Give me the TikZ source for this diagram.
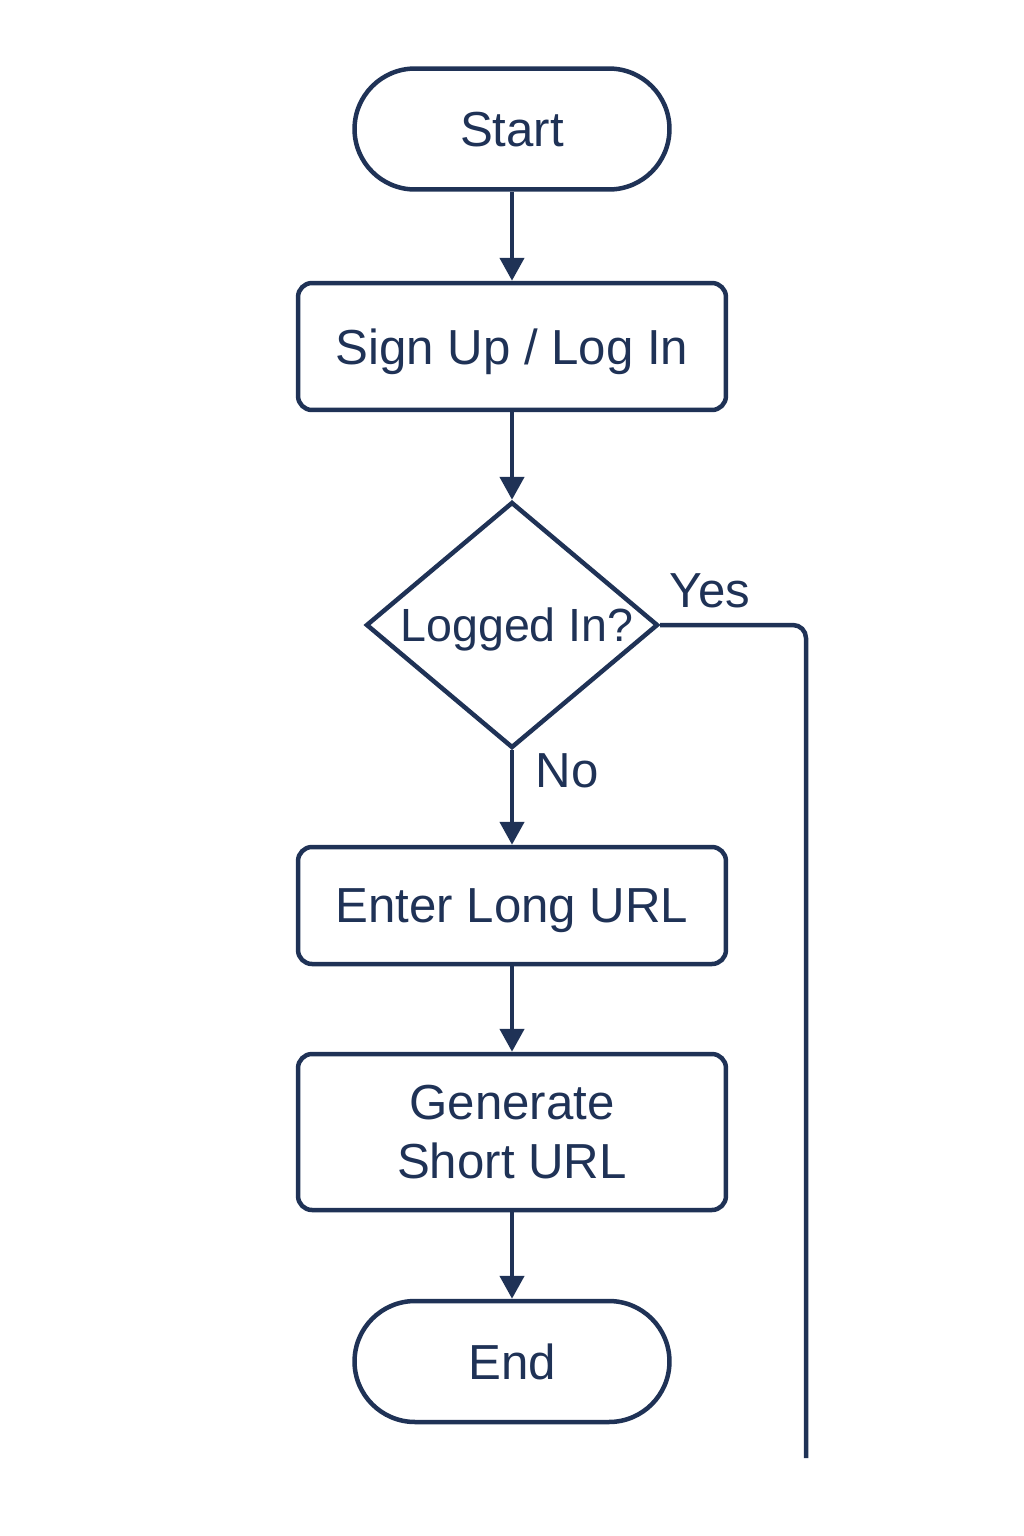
\documentclass[tikz,border=0pt]{standalone}
\usepackage{fontspec}
\setmainfont{Liberation Sans}
\usetikzlibrary{shapes.geometric,arrows.meta}
\definecolor{navy}{RGB}{31,50,86}
\tikzset{
  term/.style={draw=navy,line width=0.09cm,rounded corners=1.21cm,minimum width=6.3cm,minimum height=2.42cm,text=navy,text depth=0pt},
  proc/.style={draw=navy,line width=0.09cm,rounded corners=0.28cm,minimum width=8.56cm,text=navy,align=center},
  dec/.style={draw=navy,line width=0.09cm,diamond,inner sep=0pt,minimum width=5.84cm,minimum height=4.92cm},
  lbl/.style={text=navy},
  flow/.style={draw=navy,line width=0.09cm,-{Triangle[length=0.46cm,width=0.48cm]}}
}
\begin{document}
\begin{tikzpicture}[x=0.02cm,y=-0.02cm,font=\fontsize{28}{34}\selectfont]
  \useasboundingbox (0,0) rectangle (1024,1536);
  \node[term]  at (512,129) (start) {Start};
  \node[proc,minimum height=2.54cm,text depth=0pt]  at (512,346.5) (sign) {Sign Up / Log In};
  \node[dec,label={[lbl,text depth=0pt,font=\fontsize{26.5}{32}\selectfont,xshift=0.1cm]center:Logged In?}]  at (512,625) (logged) {};
  \node[proc,minimum height=2.34cm,text depth=0pt]  at (512,905.5) (enter) {Enter Long URL};
  \node[proc,minimum height=3.12cm]  at (512,1132) (gen) {Generate\\Short URL};
  \node[term]  at (512,1361.5) (end) {End};
  \coordinate (yesend) at (806,1458);
  \node[lbl]  at (710,591) (yes) {Yes};
  \node[lbl]  at (567,771) (no) {No};
  \draw[flow] (start) -- (sign);
  \draw[flow] (sign) -- (logged);
  \draw[flow] (logged) -- (enter);
  \draw[flow] (enter) -- (gen);
  \draw[flow] (gen) -- (end);
  \draw[draw=navy,line width=0.09cm,rounded corners=0.26cm] (logged.east) -| (yesend);
\end{tikzpicture}
\end{document}
